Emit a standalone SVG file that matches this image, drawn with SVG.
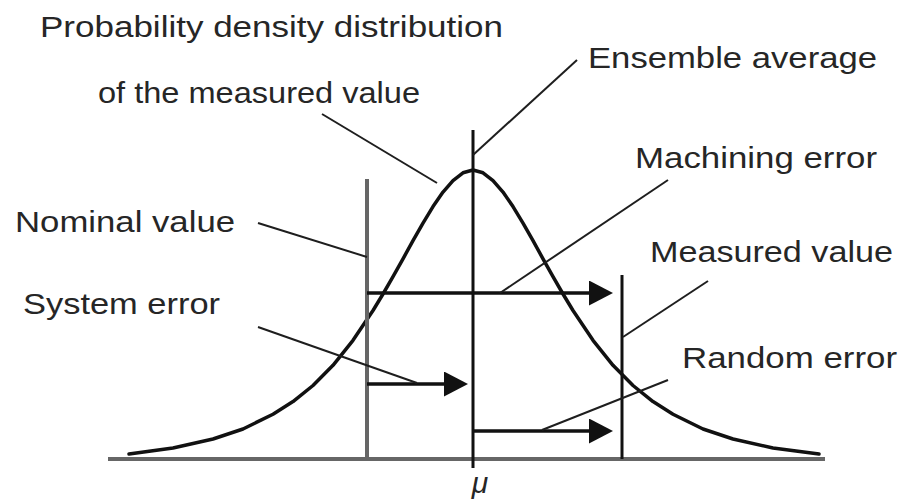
<svg xmlns="http://www.w3.org/2000/svg" width="902" height="502" viewBox="0 0 902 502">
<style>
  .lbl { font-family: "Liberation Sans", Arial, sans-serif; font-size: 30px; fill: #262626; }
  .leader { stroke: #1e1e1e; stroke-width: 2; fill: none; }
  .arrow { stroke: #111; stroke-width: 3.5; fill: none; marker-end: url(#ah); }
  .vline { stroke: #111; stroke-width: 3; }
  .gline { stroke: #666; stroke-width: 4; }
</style>
<defs>
  <marker id="ah" markerUnits="userSpaceOnUse" viewBox="0 0 24 25" refX="14" refY="12.5" markerWidth="24" markerHeight="25" orient="auto">
    <path d="M0,0 L24,12.5 L0,25 Z" fill="#111"/>
  </marker>
</defs>
<rect width="902" height="502" fill="#fff"/>

<g id="axis">
  <line x1="108" y1="459" x2="825" y2="459" class="gline"/>
</g>

<g id="curve">
  <path d="M129,454 L173,448 L213,439 L243,429 L273,414.2 L293,401.6 L313,385.5 L333,365.3 L353,340.3 L373,310.5 L383,294 L393,276.7 L403,258.8 L413,240.7 L423,223.1 L433,206.6 L443,192.1 L453,180.6 L463,172.8 L473,170 L483,172.8 L493,180.6 L503,192.1 L513,206.6 L523,223.1 L533,240.7 L543,258.8 L553,276.7 L563,294 L573,310.5 L593,340.3 L613,365.3 L633,385.5 L653,401.6 L673,414.2 L703,429 L733,439 L773,448 L819,454" fill="none" stroke="#111" stroke-width="3.5" stroke-linejoin="round" stroke-linecap="round"/>
</g>

<g id="nominal-line">
  <line x1="367" y1="179" x2="367" y2="459" class="gline"/>
</g>
<g id="mu-line">
  <line x1="473" y1="130" x2="473" y2="468" class="vline"/>
</g>
<g id="measured-line">
  <line x1="622" y1="275" x2="622" y2="459" class="vline"/>
</g>

<g id="arrows">
  <line x1="367" y1="293" x2="603" y2="293" class="arrow"/>
  <line x1="367" y1="384" x2="458" y2="384" class="arrow"/>
  <line x1="473" y1="431" x2="603" y2="431" class="arrow"/>
</g>

<g id="connectors">
  <line x1="322" y1="114" x2="437" y2="183" class="leader"/>
  <line x1="577" y1="60" x2="473" y2="155" class="leader"/>
  <line x1="258" y1="223" x2="367" y2="257" class="leader"/>
  <line x1="258" y1="327" x2="417" y2="383" class="leader"/>
  <line x1="668" y1="180" x2="500" y2="293" class="leader"/>
  <line x1="708" y1="281" x2="623" y2="337" class="leader"/>
  <line x1="668" y1="380" x2="542" y2="430" class="leader"/>
</g>

<g id="label-pdd">
  <text class="lbl" x="40" y="37" textLength="463" lengthAdjust="spacingAndGlyphs">Probability density distribution</text>
  <text class="lbl" x="98" y="103" textLength="322" lengthAdjust="spacingAndGlyphs">of the measured value</text>
</g>
<g id="label-ensemble">
  <text class="lbl" x="588" y="68" textLength="289" lengthAdjust="spacingAndGlyphs">Ensemble average</text>
</g>
<g id="label-machining">
  <text class="lbl" x="635" y="168" textLength="242" lengthAdjust="spacingAndGlyphs">Machining error</text>
</g>
<g id="label-nominal">
  <text class="lbl" x="15" y="232" textLength="220" lengthAdjust="spacingAndGlyphs">Nominal value</text>
</g>
<g id="label-system">
  <text class="lbl" x="23" y="314" textLength="197" lengthAdjust="spacingAndGlyphs">System error</text>
</g>
<g id="label-measured">
  <text class="lbl" x="650" y="262" textLength="243" lengthAdjust="spacingAndGlyphs">Measured value</text>
</g>
<g id="label-random">
  <text class="lbl" x="682" y="368" textLength="215" lengthAdjust="spacingAndGlyphs">Random error</text>
</g>
<g id="label-mu">
  <text class="lbl" x="480" y="493" text-anchor="middle" font-style="italic" font-size="28">μ</text>
</g>
</svg>
